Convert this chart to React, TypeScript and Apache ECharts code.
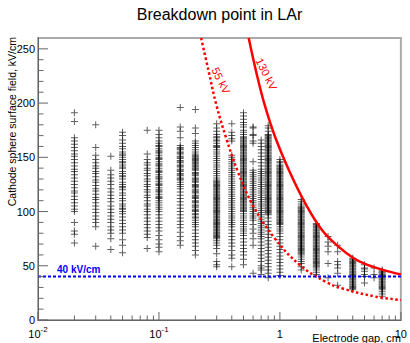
import { useEffect, useRef } from "react";
import * as echarts from "echarts";

const FONT = "Liberation Sans";

// Electrode gap (cm) of each measured column
const gaps = [0.02, 0.03, 0.04, 0.05, 0.08, 0.1, 0.15, 0.2, 0.3, 0.4, 0.5, 0.6, 0.7, 0.8, 1.0, 1.5, 2.0, 2.5, 3.0, 4.0, 5.0, 6.0, 7.0];

// Breakdown field values (kV/cm) per column
const col002 = [191, 183, 168, 165, 162, 159, 156, 153, 151, 148, 145, 142, 139, 137, 134, 131, 128, 125, 122, 119, 117, 114, 111, 108, 105, 102, 100, 90, 82, 79, 71];
const col003 = [180, 159, 152, 148, 145, 142, 140, 137, 135, 132, 129, 127, 124, 121, 119, 116, 113, 111, 108, 105, 102, 99, 96, 93, 90, 86, 68];
const col004 = [151, 138, 134, 131, 128, 125, 121, 118, 115, 112, 109, 105, 102, 99, 96, 93, 90, 86, 83, 80, 75, 65];
const col005 = [173, 170, 166, 163, 160, 158, 155, 153, 152, 150, 148, 146, 145, 143, 141, 140, 137, 135, 133, 132, 130, 127, 125, 123, 122, 120, 117, 115, 112, 110, 107, 105, 103, 102, 100, 98, 95, 92, 89, 86, 83, 80, 74, 69, 62];
const col008 = [175, 153, 148, 145, 143, 140, 138, 135, 133, 130, 128, 125, 123, 120, 118, 115, 113, 110, 107, 105, 102, 100, 97, 94, 91, 88, 85, 82, 79, 76, 66];
const col010 = [175, 171, 168, 165, 163, 161, 160, 158, 156, 155, 154, 152, 150, 149, 148, 146, 144, 143, 142, 140, 138, 137, 136, 134, 132, 131, 130, 128, 126, 125, 124, 122, 120, 119, 118, 116, 114, 113, 112, 110, 108, 106, 104, 102, 100, 97, 94, 91, 88, 85, 82, 78, 74, 70, 67, 63];
const col015 = [196, 178, 174, 168, 161, 159, 158, 157, 155, 154, 153, 151, 150, 149, 147, 146, 145, 143, 142, 141, 139, 138, 137, 135, 134, 133, 131, 130, 129, 127, 125, 123, 121, 118, 115, 112, 109, 106, 103, 100, 97, 94, 91, 88, 85, 81, 77, 73, 69];
const col020 = [194, 177, 172, 165, 163, 161, 159, 157, 155, 153, 152, 151, 150, 149, 148, 147, 146, 145, 144, 143, 142, 141, 140, 139, 138, 136, 135, 134, 133, 131, 130, 129, 128, 127, 125, 124, 123, 122, 120, 119, 118, 117, 115, 114, 113, 112, 110, 109, 108, 106, 105, 104, 102, 101, 100, 98, 97, 95, 94, 92, 90, 88, 86, 83, 80, 77, 74, 71, 68, 64, 60];
const col030 = [181, 177, 174, 171, 169, 168, 166, 165, 163, 161, 160, 159, 157, 155, 153, 151, 149, 147, 145, 143, 141, 139, 137, 135, 133, 131, 129, 128, 127, 126, 125, 124, 123, 122, 121, 120, 119, 118, 117, 116, 115, 114, 113, 112, 111, 110, 109, 108, 107, 106, 105, 104, 103, 102, 101, 100, 99, 98, 97, 96, 95, 94, 93, 92, 91, 90, 89, 88, 87, 86, 85, 84, 83, 82, 81, 80, 79, 78, 77, 76, 75, 73, 71, 69, 66, 61, 54, 51, 49];
const col040 = [181, 173, 170, 167, 165, 152, 150, 148, 146, 144, 142, 140, 138, 136, 134, 132, 130, 128, 126, 124, 122, 120, 118, 116, 114, 112, 110, 108, 106, 104, 102, 100, 98, 96, 94, 92, 90, 88, 86, 83, 80, 77, 74, 71, 68, 64, 60, 57, 49];
const col050 = [191, 188, 185, 182, 180, 178, 175, 173, 171, 169, 168, 167, 166, 165, 164, 163, 162, 161, 160, 159, 158, 157, 156, 155, 154, 153, 152, 151, 150, 149, 148, 147, 146, 145, 144, 143, 142, 141, 140, 139, 138, 137, 136, 135, 134, 133, 132, 131, 130, 129, 128, 127, 126, 125, 124, 123, 122, 121, 120, 119, 118, 117, 116, 115, 114, 113, 112, 111, 110, 109, 108, 107, 106, 105, 104, 103, 102, 101, 100, 98, 96, 94, 92, 90, 88, 86, 84, 82, 80, 78, 75, 72, 69, 66, 63, 60, 56, 51];
const col060 = [178, 177, 171, 170, 165, 163, 146, 138, 136, 134, 132, 130, 128, 126, 124, 122, 120, 118, 116, 114, 112, 110, 108, 106, 104, 102, 100, 98, 96, 94, 92, 88, 84, 80, 75, 69, 43];
const col070 = [166, 163, 160, 157, 154, 151, 148, 145, 142, 139, 137, 135, 133, 131, 129, 127, 125, 123, 121, 119, 117, 115, 113, 111, 109, 107, 105, 103, 101, 99, 97, 95, 93, 91, 89, 87, 85, 83, 81, 79, 77, 75, 72, 69, 66, 63, 60, 57, 54, 50, 48, 46, 42];
const col080 = [179, 177, 174, 171, 170, 169, 168, 167, 166, 165, 164, 163, 162, 161, 160, 159, 158, 157, 156, 155, 154, 153, 152, 151, 150, 149, 148, 147, 146, 145, 144, 143, 142, 141, 140, 139, 138, 137, 136, 135, 134, 133, 132, 131, 130, 129, 128, 127, 126, 125, 124, 123, 122, 121, 120, 119, 118, 117, 116, 115, 114, 113, 112, 111, 110, 109, 108, 107, 106, 105, 104, 103, 102, 101, 100, 99, 98, 97, 94, 91, 88, 85, 82, 79, 76, 73, 70, 67, 64, 61, 58, 55, 52, 49, 46, 43, 39];
const col100 = [148, 146, 145, 143, 142, 141, 140, 139, 138, 137, 136, 135, 134, 133, 132, 131, 130, 129, 128, 127, 126, 125, 124, 123, 122, 121, 120, 119, 118, 117, 116, 115, 114, 113, 112, 111, 110, 109, 108, 107, 106, 105, 104, 103, 102, 101, 100, 99, 98, 97, 96, 95, 94, 93, 92, 91, 90, 89, 88, 86, 84, 82, 80, 77, 74, 71, 68, 65, 62, 59, 56, 53, 50, 47, 44, 41];
const col150 = [111, 109, 107, 105, 104, 103, 102, 101, 100, 99, 98, 97, 96, 95, 94, 93, 92, 91, 90, 89, 88, 87, 86, 85, 84, 83, 82, 81, 80, 79, 78, 77, 76, 75, 74, 73, 72, 71, 70, 69, 68, 67, 66, 65, 64, 63, 62, 61, 60, 58, 56, 54, 52, 49, 46];
const col200 = [89, 88, 87, 86, 85, 84, 83, 82, 81, 80, 79, 78, 77, 76, 75, 74, 73, 72, 71, 70, 69, 68, 67, 66, 65, 64, 63, 62, 61, 60, 59, 58, 57, 56, 55, 54, 53, 52, 51, 50, 49, 48, 46, 44, 42];
const col250 = [77, 72, 68, 63, 52, 39];
const col300 = [69, 63, 54, 51, 48, 43, 32];
const col400 = [57, 56, 55, 54, 53, 52, 51, 50, 49, 48, 47, 46, 45, 44, 43, 42, 41, 40, 39, 38, 37, 36, 35, 34, 33, 32, 31, 30, 29, 28];
const col500 = [51, 48, 47, 45, 42, 40, 34];
const col600 = [48, 42, 39];
const col700 = [46, 45, 44, 43, 42, 41, 40, 39, 38, 37, 36, 35, 34, 33, 32, 31, 30, 29, 28, 26, 24, 22];

const columns = [col002, col003, col004, col005, col008, col010, col015, col020, col030, col040, col050, col060, col070, col080, col100, col150, col200, col250, col300, col400, col500, col600, col700];

// Breakdown curves
const curve130Gap = [0.552, 0.636, 0.745, 0.918, 1.2, 1.65, 2.26, 3.1, 4.07, 5.1, 7.2, 10];
const curve130Field = [260, 229, 199, 168, 137, 106, 82, 67, 57, 51.5, 46, 42];
const curve55Gap = [0.223, 0.258, 0.297, 0.359, 0.448, 0.596, 0.901, 1.45, 2.41, 3.3, 6.2, 10];
const curve55Field = [260, 229, 199, 168, 137, 106, 75.6, 51, 35, 29, 21.5, 18.5];

const thresholdField = 40;
const gapRange = [0.01, 10];
const fieldRange = [0, 260];

const xMajorTicks = [0.01, 0.1, 1, 10];
const xMinorTicks = [0.02, 0.03, 0.04, 0.05, 0.06, 0.07, 0.08, 0.09, 0.2, 0.3, 0.4, 0.5, 0.6, 0.7, 0.8, 0.9, 2, 3, 4, 5, 6, 7, 8, 9];
const yMajorTicks = [0, 50, 100, 150, 200, 250];
const yMinorTicks = [10, 20, 30, 40, 60, 70, 80, 90, 110, 120, 130, 140, 160, 170, 180, 190, 210, 220, 230, 240];

const CROSS = "path://M0,3H7V4H0Z M3,0H4V7H3Z";

export default function App() {
  const ref = useRef<HTMLDivElement>(null);
  useEffect(() => {
    if (!ref.current) return;
    const chart = echarts.init(ref.current, undefined, { renderer: "svg" });

    const scatterData: number[][] = [];
    columns.forEach((col, i) => col.forEach((v) => scatterData.push([gaps[i], v])));

    type Tick = [number, number, number, number]; // x, y, axis(0=x,1=y), length
    const ticks: Tick[] = [];
    xMajorTicks.forEach((v) => ticks.push([v, fieldRange[0], 0, 8]));
    xMinorTicks.forEach((v) => ticks.push([v, fieldRange[0], 0, 4.5]));
    yMajorTicks.forEach((v) => ticks.push([gapRange[0], v, 1, 10]));
    yMinorTicks.forEach((v) => ticks.push([gapRange[0], v, 1, 5.5]));

    chart.setOption({
      animation: false,
      grid: {
        left: 38,
        right: 9,
        top: 38,
        bottom: 23,
        show: true,
        borderColor: "#aaaaaa",
        borderWidth: 2,
      },
      xAxis: {
        type: "log",
        logBase: 10,
        min: gapRange[0],
        max: gapRange[1],
        axisLine: { show: true, lineStyle: { color: "#666", width: 1 } },
        axisTick: { show: false },
        splitLine: { show: false },
        minorSplitLine: { show: false },
        axisLabel: {
          margin: 5,
          formatter: (v: number) => {
            const e = Math.round(Math.log10(v));
            if (e === 0) return "{b|1}";
            if (e === 1) return "{b|10}";
            return "{b|10}{s|" + e + "}";
          },
          rich: {
            b: { fontSize: 11, fontFamily: FONT, color: "#000", verticalAlign: "bottom", lineHeight: 14 },
            s: { fontSize: 8, fontFamily: FONT, color: "#000", verticalAlign: "top", lineHeight: 14 },
          },
        },
      },
      yAxis: {
        type: "value",
        min: fieldRange[0],
        max: fieldRange[1],
        interval: 50,
        axisLine: { show: true, lineStyle: { color: "#666", width: 1 } },
        axisTick: { show: false },
        splitLine: { show: false },
        axisLabel: {
          margin: 3,
          fontSize: 11,
          fontFamily: FONT,
          color: "#000",
          showMaxLabel: false,
        },
      },
      series: [
        {
          type: "scatter",
          data: scatterData,
          symbol: CROSS,
          symbolSize: 7,
          itemStyle: { color: "rgba(0,0,0,0.78)" },
          z: 1,
          silent: true,
        },
        {
          type: "line",
          data: curve130Gap.map((g, i) => [g, curve130Field[i]]),
          smooth: 0.4,
          showSymbol: false,
          lineStyle: { color: "#ff0000", width: 2.5 },
          z: 3,
        },
        {
          type: "line",
          data: curve55Gap.map((g, i) => [g, curve55Field[i]]),
          smooth: 0.4,
          showSymbol: false,
          lineStyle: { color: "#ff0000", width: 2.5, type: [2.5, 2.5] },
          z: 3,
        },
        {
          type: "line",
          data: [
            [gapRange[0], thresholdField],
            [gapRange[1], thresholdField],
          ],
          showSymbol: false,
          lineStyle: { color: "#0000ff", width: 2, type: [3, 2] },
          z: 4,
        },
        {
          type: "custom",
          data: ticks,
          clip: false,
          z: 5,
          renderItem: (_p: any, api: any) => {
            const pt = api.coord([api.value(0), api.value(1)]);
            const axis = api.value(2);
            const len = api.value(3);
            const shape =
              axis === 0
                ? { x1: pt[0], y1: pt[1], x2: pt[0], y2: pt[1] - len }
                : { x1: pt[0], y1: pt[1], x2: pt[0] + len, y2: pt[1] };
            return { type: "line", shape, style: { stroke: "#666", lineWidth: 1 } };
          },
        },
      ],
      graphic: [
        {
          type: "text",
          x: 219.5,
          y: 14,
          style: { text: "Breakdown point in LAr", fontSize: 16, fontFamily: FONT, fill: "#000", align: "center", verticalAlign: "middle" },
        },
        {
          type: "text",
          x: 12,
          y: 37,
          rotation: Math.PI / 2,
          style: { text: "Cathode sphere surface field, kV/cm", fontSize: 10.5, fontFamily: FONT, fill: "#000", align: "right", verticalAlign: "middle" },
        },
        {
          type: "text",
          x: 401,
          y: 338,
          style: { text: "Electrode gap, cm", fontSize: 11, fontFamily: FONT, fill: "#000", align: "right", verticalAlign: "middle" },
        },
        {
          type: "text",
          x: 221,
          y: 80.5,
          rotation: -1.107,
          style: { text: "55 kV", fontSize: 11, fontFamily: FONT, fill: "#ff0000", align: "center", verticalAlign: "middle" },
        },
        {
          type: "text",
          x: 266.5,
          y: 74,
          rotation: -1.107,
          style: { text: "130 kV", fontSize: 11, fontFamily: FONT, fill: "#ff0000", align: "center", verticalAlign: "middle" },
        },
        {
          type: "text",
          x: 57,
          y: 269,
          style: { text: "40 kV/cm", fontSize: 10, fontWeight: "bold", fontFamily: FONT, fill: "#0000ff", align: "left", verticalAlign: "middle" },
        },
      ],
    });
    return () => chart.dispose();
  }, []);
  return <div ref={ref} style={{ position: "absolute", left: 0, top: 0, width: 410, height: 343 }} />;
}
